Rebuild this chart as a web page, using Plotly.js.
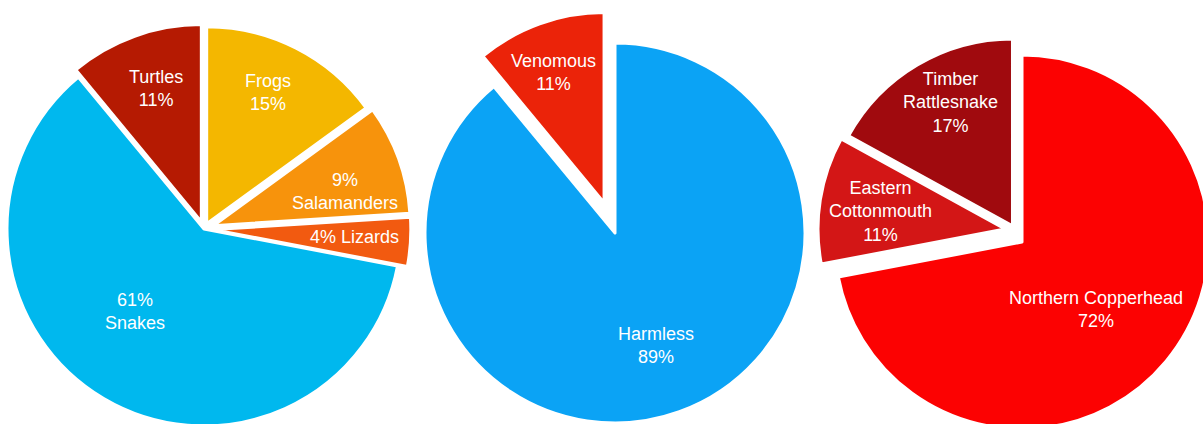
<!DOCTYPE html>
<html>
<head>
<meta charset="utf-8">
<script src="https://cdn.plot.ly/plotly-3.0.1.min.js"></script>
<style>
  html, body { margin: 0; padding: 0; overflow: hidden; background: #ffffff; width: 1203px; height: 424px; }
  #chart { position: absolute; left: -40px; top: 0px; width: 1300px; height: 480px; }
</style>
</head>
<body>
<div id="chart"></div>
<script>
// ---- Data ----
const herpLabels = ['Frogs', 'Salamanders', 'Lizards', 'Snakes', 'Turtles'];
const herpValues = [15, 9, 4, 61, 11];

const snakeLabels = ['Harmless', 'Venomous'];
const snakeValues = [89, 11];

const venomLabels = ['Northern Copperhead', 'Eastern Cottonmouth', 'Timber Rattlesnake'];
const venomValues = [72, 11, 17];

// ---- Styles ----
const CLEAR = 'rgba(0,0,0,0)';

const herpColors = ['#F4B700', '#F7930C', '#F25A10', '#00B8EE', '#B51A02'];
const herpPull = [0.03, 0.05, 0.05, 0, 0.04];
// label format: 'LP' label then percent, 'PL' percent then label, 'P L' same line; leading 'W' wraps label words
const herpFmt = ['LP', 'PL', 'P L', 'PL', 'LP'];
const herpLabR = [0.733, 0.69, 0.713, 0.546, 0.716];
const herpLabDA = [-1.9, 5.2, -0.7, 9.3, 1.0];

const snakeColors = ['#0BA3F5', '#EB2309'];
const snakePull = [0, 0.17];
const snakeFmt = ['LP', 'LP'];
const snakeLabR = [0.63, 0.734];
const snakeLabDA = [0, -1.6];

const venomColors = ['#FC0202', '#D31616', '#A00A0E'];
const venomPull = [0, 0, 0.10];
// extra pixel shift of an exploded slice (drawn as its own layer)
const venomShift = [[0, 0], [-17, -13], [0, 0]];
const venomFmt = ['LP', 'WLP', 'WLP'];
const venomLabR = [0.537, 0.67, 0.74];
const venomLabDA = [3.0, -1.2, 4.1];

const W = 1300, H = 480, OX = 40;
const font = { family: 'Liberation Sans, Arial, sans-serif', size: 18, color: '#ffffff' };

function dom(cx, cy, r, pulls) {
  const mp = Math.max.apply(null, pulls);
  const half = r * (1 + mp);
  const px = cx + OX;
  return {
    x: [(px - half) / W, (px + half) / W],
    y: [(H - cy - half) / H, (H - cy + half) / H]
  };
}

function pieTrace(labels, values, colors, pulls, lineW, domain) {
  return {
    type: 'pie',
    labels: labels,
    values: values,
    sort: false,
    direction: 'clockwise',
    rotation: 0,
    pull: pulls,
    marker: { colors: colors, line: { color: '#ffffff', width: lineW } },
    textinfo: 'none',
    hoverinfo: 'label+percent',
    showlegend: false,
    domain: domain
  };
}

// label annotations placed from the data (cumulative angles of each slice)
function pieLabels(labels, values, pulls, shifts, fmt, labR, labDA, cx, cy, r) {
  const total = values.reduce((a, b) => a + b, 0);
  let cum = 0;
  const out = [];
  for (let i = 0; i < values.length; i++) {
    const a0 = cum / total * 360;
    cum += values[i];
    const a1 = cum / total * 360;
    const mid = (a0 + a1) / 2;
    const mr = mid * Math.PI / 180;
    const sh = shifts ? shifts[i] : [0, 0];
    const scx = cx + sh[0] + pulls[i] * r * Math.sin(mr);
    const scy = cy + sh[1] - pulls[i] * r * Math.cos(mr);
    const la = (mid + labDA[i]) * Math.PI / 180;
    const tx = scx + labR[i] * r * Math.sin(la);
    const ty = scy - labR[i] * r * Math.cos(la);
    const pct = Math.round(values[i] / total * 100) + '%';
    let lab = labels[i];
    let f = fmt[i];
    if (f.charAt(0) === 'W') { lab = lab.replace(/ /g, '<br>'); f = f.slice(1); }
    let txt;
    if (f === 'LP') txt = lab + '<br>' + pct;
    else if (f === 'PL') txt = pct + '<br>' + lab;
    else txt = pct + ' ' + lab;
    out.push({
      xref: 'paper', yref: 'paper',
      x: (tx + OX) / W, y: 1 - ty / H,
      xanchor: 'center', yanchor: 'middle',
      text: txt, showarrow: false, align: 'center',
      font: font
    });
  }
  return out;
}

const P1 = [204, 229, 197], P2 = [615, 233, 190], P3 = [1022, 242, 187];

// pie 3: base layer (copperhead + timber) and shifted layer (cottonmouth)
const venomBaseColors = venomColors.map((c, i) => (venomShift[i][0] || venomShift[i][1]) ? CLEAR : c);
const venomBaseLine = venomColors.map((c, i) => (venomShift[i][0] || venomShift[i][1]) ? 0 : 3);
const venomLayerColors = venomColors.map((c, i) => (venomShift[i][0] || venomShift[i][1]) ? c : CLEAR);
const venomLayerLine = venomColors.map((c, i) => (venomShift[i][0] || venomShift[i][1]) ? 3 : 0);
const shiftIdx = venomShift.findIndex(s => s[0] || s[1]);

const data = [
  pieTrace(herpLabels, herpValues, herpColors, herpPull, 3, dom(P1[0], P1[1], P1[2], herpPull)),
  pieTrace(snakeLabels, snakeValues, snakeColors, snakePull, 3, dom(P2[0], P2[1], P2[2], snakePull)),
  pieTrace(venomLabels, venomValues, venomBaseColors, venomPull, venomBaseLine, dom(P3[0], P3[1], P3[2], venomPull)),
  pieTrace(venomLabels, venomValues, venomLayerColors, [0, 0, 0], venomLayerLine,
    dom(P3[0] + venomShift[shiftIdx][0], P3[1] + venomShift[shiftIdx][1], P3[2], [0]))
];

const annotations = []
  .concat(pieLabels(herpLabels, herpValues, herpPull, null, herpFmt, herpLabR, herpLabDA, P1[0], P1[1], P1[2]))
  .concat(pieLabels(snakeLabels, snakeValues, snakePull, null, snakeFmt, snakeLabR, snakeLabDA, P2[0], P2[1], P2[2]))
  .concat(pieLabels(venomLabels, venomValues, venomPull, venomShift, venomFmt, venomLabR, venomLabDA, P3[0], P3[1], P3[2]));

const layout = {
  width: W, height: H,
  margin: { l: 0, r: 0, t: 0, b: 0 },
  paper_bgcolor: '#ffffff',
  showlegend: false,
  font: font,
  annotations: annotations
};

Plotly.newPlot('chart', data, layout, { staticPlot: true, displayModeBar: false });
</script>
</body>
</html>
